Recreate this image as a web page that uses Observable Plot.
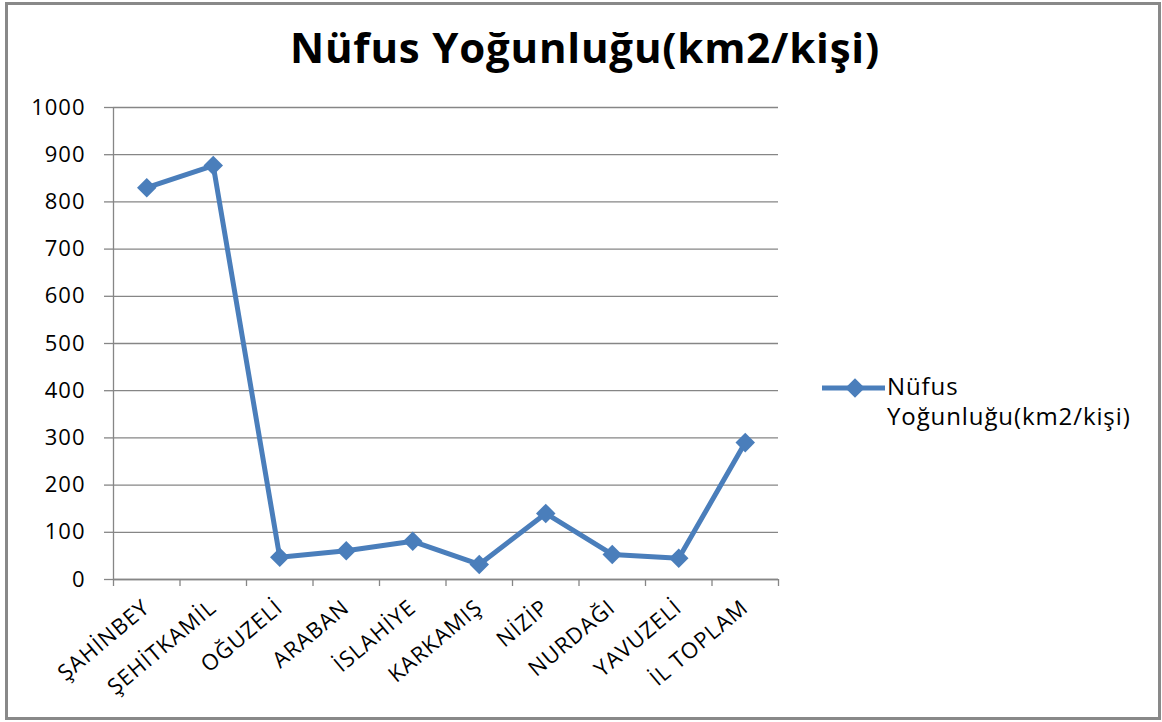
<!DOCTYPE html>
<html>
<head>
<meta charset="utf-8">
<script src="https://cdn.jsdelivr.net/npm/d3@7"></script>
<script src="https://cdn.jsdelivr.net/npm/@observablehq/plot@0.6"></script>
<style>
  body { margin: 0; background: #fff; }
  #wrap { position: relative; width: 1162px; height: 722px; font-family: "Open Sans", sans-serif; color: #000; overflow: hidden; }
  #frame { position: absolute; left: 5px; top: 2px; width: 1156px; height: 718px; border: 3px solid #898989; box-sizing: border-box; pointer-events: none; }
  #chart { position: absolute; left: 0; top: 0; }
  #chart svg text { letter-spacing: 1px; }
  #title { position: absolute; left: 0; width: 1170px; top: 22px; text-align: center; font-weight: 700; font-size: 42px; line-height: 50px; white-space: nowrap; letter-spacing: 0.8px; }
  #legend { position: absolute; left: 820px; top: 370px; }
  #legend svg { position: absolute; left: 0; top: 0; }
  #legendText { position: absolute; left: 67px; top: 1px; font-size: 24px; line-height: 30px; white-space: nowrap; letter-spacing: 0.9px; }
</style>
</head>
<body>
<div id="wrap">
  <div id="chart"></div>
  <div id="title"></div>
  <div id="legend"></div>
  <div id="frame"></div>
</div>
<script>
const categories = ["ŞAHİNBEY", "ŞEHİTKAMİL", "OĞUZELİ", "ARABAN", "İSLAHİYE", "KARKAMIŞ", "NİZİP", "NURDAĞI", "YAVUZELİ", "İL TOPLAM"];
const values = [830, 877, 47, 61, 81, 32, 140, 53, 45, 290];
const yTicks = [0, 100, 200, 300, 400, 500, 600, 700, 800, 900, 1000];
const titleText = "Nüfus Yoğunluğu(km2/kişi)";
const seriesLines = ["Nüfus", "Yoğunluğu(km2/kişi)"];

const blue = "#4a7ebb";
const grey = "#868686";

const data = categories.map((c, i) => ({ i, c, v: values[i] }));
const boundaries = d3.range(-0.5, categories.length, 1);

const chart = Plot.plot({
  width: 1162,
  height: 722,
  marginLeft: 113,
  marginRight: 384,
  marginTop: 107,
  marginBottom: 143,
  x: { type: "linear", domain: [-0.5, categories.length - 0.5] },
  y: { domain: [0, 1000] },
  style: { fontFamily: "Open Sans, sans-serif", fontSize: "22px", color: "#000", background: "transparent" },
  marks: [
    Plot.gridY(yTicks, { stroke: grey, strokeOpacity: 1, strokeWidth: 1.3 }),
    Plot.axisY({ ticks: yTicks, tickSize: 9, tickPadding: 19, tickFormat: d => String(d), stroke: grey, strokeWidth: 1.3, label: null }),
    Plot.ruleX([-0.5], { stroke: grey, strokeWidth: 1.3 }),
    Plot.ruleY([0], { stroke: grey, strokeWidth: 1.3 }),
    Plot.axisX({ ticks: boundaries, tickSize: 7, tickFormat: () => "", stroke: grey, strokeWidth: 1.3, label: null }),
    Plot.axisX({ ticks: d3.range(categories.length), tickSize: 0, tickPadding: 25, tickRotate: -40, tickFormat: i => categories[i], label: null }),
    Plot.line(data, { x: "i", y: "v", stroke: blue, strokeWidth: 5 }),
    Plot.dot(data, { x: "i", y: "v", symbol: "diamond2", r: 8.8, fill: blue, stroke: "none" })
  ]
});
document.getElementById("chart").appendChild(chart);

document.getElementById("title").textContent = titleText;

const legend = document.getElementById("legend");
const ls = d3.create("svg").attr("width", 70).attr("height", 40);
ls.append("line").attr("x1", 2).attr("x2", 65).attr("y1", 18).attr("y2", 18).attr("stroke", blue).attr("stroke-width", 5);
ls.append("path").attr("d", d3.symbol(d3.symbolDiamond2, Math.PI * 8.8 * 8.8)()).attr("transform", "translate(35,18)").attr("fill", blue);
legend.appendChild(ls.node());
const lt = document.createElement("div");
lt.id = "legendText";
lt.innerHTML = seriesLines.join("<br>");
legend.appendChild(lt);
</script>
</body>
</html>
